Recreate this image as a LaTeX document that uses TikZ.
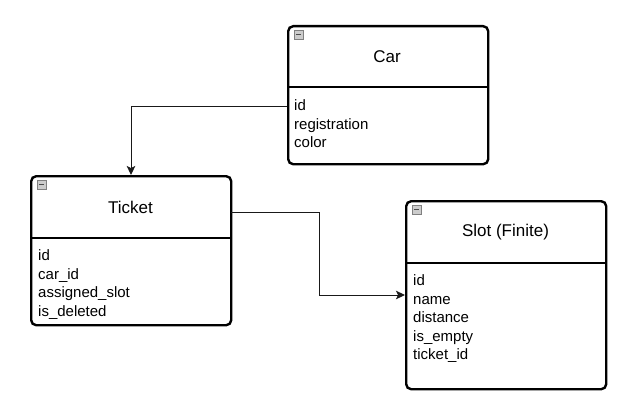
\documentclass[tikz,border=0pt]{standalone}
\usepackage{fontspec}
\setmainfont{Liberation Sans}
\usetikzlibrary{arrows.meta, positioning}
\definecolor{IconGray}{rgb}{0.8, 0.8, 0.8}
\definecolor{LinkGray}{rgb}{0.1, 0.1, 0.1}

\begin{document}
\begin{tikzpicture}[x=1pt, y=-1pt,
		classbox/.style={draw, line width=2.4pt, rounded corners=5pt, anchor=north west, inner sep=0pt, minimum width=200pt},
		classtitle/.style={font=\fontsize{17}{20}\selectfont},
		field/.style={anchor=base west, inner sep=0pt, font=\fontsize{15}{18}\selectfont},
		collapse/.style={draw=gray, fill=IconGray, line width=0.8pt, minimum size=9pt, inner sep=0pt,
			path picture={\draw[line width=1.6pt, black!70] ([xshift=1.8pt]path picture bounding box.west) -- ([xshift=-1.8pt]path picture bounding box.east);}},
		link/.style={draw=LinkGray, line width=1pt, -{Stealth[length=9pt, width=8.5pt, inset=2pt]}}]
		\useasboundingbox (0, 0) rectangle (637, 404);
		
		% Car
		\node[classbox, minimum height=138pt] (car) at (287, 25) {};
		\draw[line width=2.4pt] (287, 87) -- (487, 87);
		\node[collapse] (carIcon) at (298.5, 34.5) {};
		\node[classtitle] (carTitle) at (387, 57) {Car};
		\foreach \f [count=\i] in {id, registration, color}
			\node[field] (car-\i) at (294, 110.5 + 18.5*\i - 18.5) {\f};
		
		% Ticket
		\node[classbox, minimum height=149pt] (ticket) at (30, 175) {};
		\draw[line width=2.4pt] (30, 238) -- (231, 238);
		\node[collapse] (ticketIcon) at (41.5, 184.5) {};
		\node[classtitle] (ticketTitle) at (130.5, 207) {Ticket};
		\foreach \f [count=\i] in {id, car\_id, assigned\_slot, is\_deleted}
			\node[field] (ticket-\i) at (38, 260.5 + 18.5*\i - 18.5) {\f};
		
		% Slot
		\node[classbox, minimum height=188pt] (slot) at (405, 200) {};
		\draw[line width=2.4pt] (405, 263) -- (606, 263);
		\node[collapse] (slotIcon) at (416.5, 209.5) {};
		\node[classtitle] (slotTitle) at (505.5, 232) {Slot (Finite)};
		\foreach \f [count=\i] in {id, name, distance, is\_empty, ticket\_id}
			\node[field] (slot-\i) at (413, 285.5 + 18.5*\i - 18.5) {\f};
		
		% links
		\coordinate (carOut) at (287, 106);
		\coordinate (ticketIn) at (131, 175);
		\draw[link] (carOut) -| (ticketIn);
		
		\coordinate (ticketOut) at (231, 212);
		\coordinate (slotIn) at (405, 295);
		\draw[link] (ticketOut) -- (319, 212) |- (slotIn);
	\end{tikzpicture}
\end{document}
